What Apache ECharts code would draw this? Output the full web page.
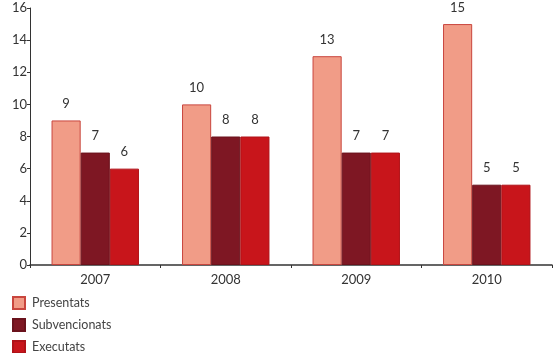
<!DOCTYPE html>
<html><head><meta charset="utf-8">
<script src="https://cdn.jsdelivr.net/npm/echarts@6/dist/echarts.min.js"></script>
<style>html,body{margin:0;padding:0;background:#fff}#c{width:553px;height:353px}</style>
</head><body><div id="c"></div>
<script>
const categories = ['2007', '2008', '2009', '2010'];
const presentats = [9, 10, 13, 15];
const subvencionats = [7, 8, 7, 5];
const executats = [6, 8, 7, 5];
const seriesNames = ['Presentats', 'Subvencionats', 'Executats'];
const yTicks = [0, 2, 4, 6, 8, 10, 12, 14, 16];

const font = 'Lato, "DejaVu Sans", sans-serif';
const colors = ['#F19C87', '#7E1723', '#C8151B'];
const borders = ['#C9463E', '#6A121C', '#B01218'];
const chart = echarts.init(document.getElementById('c'));
const mk = (name, data, i) => ({
  name, type: 'bar', data, barGap: '0%', barCategoryGap: '33%',
  itemStyle: { color: colors[i], borderColor: borders[i], borderWidth: 1 },
  label: { show: true, position: 'top', distance: 10, color: '#333', fontFamily: font, fontSize: 13 }
});
chart.setOption({
  animation: false,
  grid: { left: 30, right: 1, top: 8, bottom: 88 },
  legend: {
    orient: 'vertical', left: 12, top: 296, height: 60, itemGap: 8, itemWidth: 12, itemHeight: 12,
    icon: 'rect', data: seriesNames, padding: 0,
    textStyle: { color: '#444', fontFamily: font, fontSize: 12.5, padding: [0, 0, 0, 2] }
  },
  xAxis: {
    type: 'category', data: categories,
    axisLine: { lineStyle: { color: '#333', width: 1.5 } },
    axisTick: { show: true, length: 3, lineStyle: { color: '#333' } },
    axisLabel: { color: '#333', fontFamily: font, fontSize: 13, margin: 8 }
  },
  yAxis: {
    type: 'value', min: yTicks[0], max: yTicks[yTicks.length - 1], interval: 2,
    splitLine: { show: false },
    axisLine: { show: true, lineStyle: { color: '#333', width: 1 } },
    axisTick: { show: true, length: 3, lineStyle: { color: '#333' } },
    axisLabel: { color: '#333', fontFamily: font, fontSize: 13, margin: 3 }
  },
  series: [mk(seriesNames[0], presentats, 0), mk(seriesNames[1], subvencionats, 1), mk(seriesNames[2], executats, 2)]
});
</script></body></html>
